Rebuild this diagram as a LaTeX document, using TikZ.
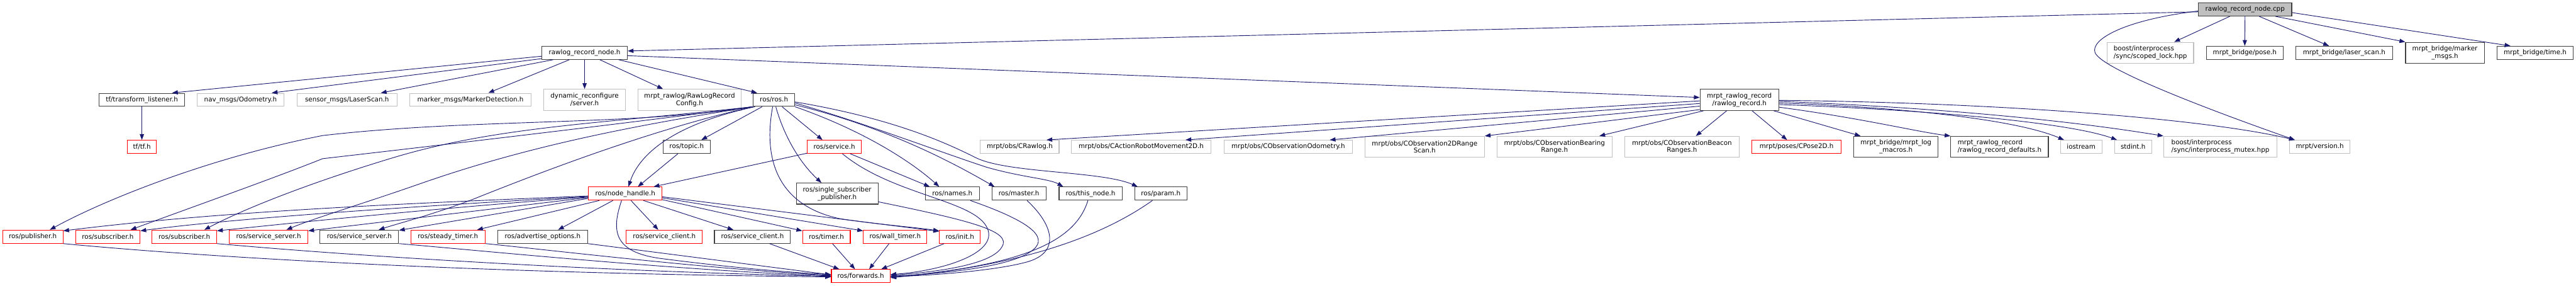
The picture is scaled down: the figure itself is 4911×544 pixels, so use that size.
\documentclass[tikz,border=0pt]{standalone}
\usepackage{fontspec}
\setmainfont{DejaVu Sans}
\usetikzlibrary{arrows.meta,calc}
\definecolor{edgecol}{HTML}{191970}
\definecolor{greyb}{HTML}{BFBFBF}
\definecolor{blkb}{HTML}{404040}
\begin{document}
\begin{tikzpicture}[x=1pt,y=-1pt,
  box/.style={rectangle, inner sep=0pt, minimum height=25pt, line width=1.3pt,
              font=\fontsize{12.4}{14.3}\selectfont, text=black, align=center},
  two/.style={minimum height=40pt},
  blk/.style={box, draw=blkb},
  gry/.style={box, draw=greyb},
  redb/.style={box, draw=red},
  rootb/.style={box, draw=blkb, fill=greyb},
  edge/.style={draw=edgecol, line width=1.1pt, -{Triangle[length=11pt,width=8pt]}},
]
\useasboundingbox (0,0) rectangle (4911,544);
% row 1
\node[rootb, minimum width=178] (cpp) at (4280,18) {rawlog\_record\_node.cpp};
% row 2
\node[blk, minimum width=163] (rnh) at (1114.5,100.5) {rawlog\_record\_node.h};
\node[gry, two, minimum width=165, align=left] (scoped) at (4099.5,100.5) {boost/interprocess\\/sync/scoped\_lock.hpp};
\node[blk, minimum width=147] (pose) at (4279.5,100.5) {mrpt\_bridge/pose.h};
\node[blk, minimum width=184] (laser) at (4469,100.5) {mrpt\_bridge/laser\_scan.h};
\node[blk, two, minimum width=150] (marker) at (4661,100.5) {mrpt\_bridge/marker\\\_msgs.h};
\node[blk, minimum width=146] (time) at (4833,100.5) {mrpt\_bridge/time.h};
% row 3
\node[blk, minimum width=163] (tfl) at (270.5,190) {tf/transform\_listener.h};
\node[gry, minimum width=165] (nav) at (458.5,190) {nav\_msgs/Odometry.h};
\node[gry, minimum width=191] (sensor) at (661.5,190) {sensor\_msgs/LaserScan.h};
\node[gry, minimum width=232] (markerdet) at (897,190) {marker\_msgs/MarkerDetection.h};
\node[gry, two, minimum width=155] (dynrec) at (1114.5,190) {dynamic\_reconfigure\\/server.h};
\node[gry, two, minimum width=197] (cfg) at (1314.5,190) {mrpt\_rawlog/RawLogRecord\\Config.h};
\node[blk, minimum width=79] (rosros) at (1475.5,190) {ros/ros.h};
\node[blk, two, minimum width=150] (rr) at (3316,190) {mrpt\_rawlog\_record\\/rawlog\_record.h};
% row 4
\node[redb, minimum width=55] (tf) at (270.5,279.5) {tf/tf.h};
\node[blk, minimum width=90] (topic) at (1309,279.5) {ros/topic.h};
\node[redb, minimum width=103] (service) at (1590.5,279.5) {ros/service.h};
\node[gry, minimum width=150] (crawlog) at (1944,279.5) {mrpt/obs/CRawlog.h};
\node[gry, minimum width=267] (caction) at (2175.5,279.5) {mrpt/obs/CActionRobotMovement2D.h};
\node[gry, minimum width=244] (codo) at (2456,279.5) {mrpt/obs/CObservationOdometry.h};
\node[gry, two, minimum width=228] (c2d) at (2716,279.5) {mrpt/obs/CObservation2DRange\\Scan.h};
\node[gry, two, minimum width=219] (cbear) at (2963.5,279.5) {mrpt/obs/CObservationBearing\\Range.h};
\node[gry, two, minimum width=219] (cbeacon) at (3206.5,279.5) {mrpt/obs/CObservationBeacon\\Ranges.h};
\node[redb, minimum width=170] (cpose) at (3425,279.5) {mrpt/poses/CPose2D.h};
\node[blk, two, minimum width=161] (macros) at (3614.5,279.5) {mrpt\_bridge/mrpt\_log\\\_macros.h};
\node[blk, two, minimum width=186, align=left] (defaults) at (3812,279.5) {mrpt\_rawlog\_record\\/rawlog\_record\_defaults.h};
\node[gry, minimum width=79] (iostream) at (3967.5,279.5) {iostream};
\node[gry, minimum width=71] (stdint) at (4066.5,279.5) {stdint.h};
\node[gry, two, minimum width=216, align=left] (mutex) at (4233,279.5) {boost/interprocess\\/sync/interprocess\_mutex.hpp};
\node[gry, minimum width=115] (version) at (4422.5,279.5) {mrpt/version.h};
% row 5
\node[redb, minimum width=140] (nh) at (1192,368.5) {ros/node\_handle.h};
\node[blk, two, minimum width=156] (ssp) at (1596,368.5) {ros/single\_subscriber\\\_publisher.h};
\node[blk, minimum width=103] (names) at (1815.5,368.5) {ros/names.h};
\node[blk, minimum width=103] (master) at (1942.5,368.5) {ros/master.h};
\node[blk, minimum width=120] (thisnode) at (2079,368.5) {ros/this\_node.h};
\node[blk, minimum width=100] (param) at (2213,368.5) {ros/param.h};
% row 6
\node[redb, minimum width=115] (pub) at (62.5,450.5) {ros/publisher.h};
\node[redb, minimum width=123] (sub1) at (205.5,450.5) {ros/subscriber.h};
\node[redb, minimum width=123] (sub2) at (351.5,450.5) {ros/subscriber.h};
\node[redb, minimum width=150] (ssr) at (512,450.5) {ros/service\_server.h};
\node[blk, minimum width=150] (ssb) at (685,450.5) {ros/service\_server.h};
\node[redb, minimum width=142] (steady) at (854,450.5) {ros/steady\_timer.h};
\node[blk, minimum width=171] (adv) at (1034.5,450.5) {ros/advertise\_options.h};
\node[redb, minimum width=145] (scr) at (1266.5,450.5) {ros/service\_client.h};
\node[blk, minimum width=145] (scb) at (1434.5,450.5) {ros/service\_client.h};
\node[redb, minimum width=91] (timer) at (1575.5,450.5) {ros/timer.h};
\node[redb, minimum width=121] (wall) at (1706.5,450.5) {ros/wall\_timer.h};
\node[redb, minimum width=78] (init) at (1830,450.5) {ros/init.h};
% row 7
\node[redb, minimum width=112] (fwd) at (1641,525.5) {ros/forwards.h};

% ---- edges from the .cpp
\draw[edge] ($(cpp.west)+(0,4.5)$) -- ($(rnh.east)+(0,-3.5)$);
\draw[edge] ($(cpp.south)+(-29,0)$) -- ($(scoped.north)+(45.5,0)$);
\draw[edge] (cpp.south) -- (pose.north);
\draw[edge] ($(cpp.south)+(27,0)$) -- ($(laser.north)+(-29,0)$);
\draw[edge] ($(cpp.south)+(58,0)$) -- (marker.north west);
\draw[edge] ($(cpp.east)+(0,6)$) -- ($(time.north)+(-47,0)$);
\draw[edge] ($(cpp.west)+(0,3)$) .. controls (4050,38) and (3985,75) .. (3994,100)
            .. controls (4005,130) and (4200,205) .. ($(version.north)+(-47.5,0)$);
% ---- edges from rawlog_record_node.h
\draw[edge] ($(rnh.west)+(0,6.5)$) -- ($(tfl.north)+(57.5,0)$);
\draw[edge] ($(rnh.south west)+(0,-2)$) -- ($(nav.north)+(59.5,0)$);
\draw[edge] ($(rnh.south)+(-60,0)$) -- ($(sensor.north)+(64.5,0)$);
\draw[edge] ($(rnh.south)+(-29,0)$) -- ($(markerdet.north)+(34,0)$);
\draw[edge] (rnh.south) -- (dynrec.north);
\draw[edge] ($(rnh.south)+(29,0)$) -- ($(cfg.north)+(-50.5,0)$);
\draw[edge] ($(rnh.south)+(65,0)$) -- ($(rosros.north)+(-32,0)$);
\draw[edge] ($(rnh.east)+(0,5.5)$) -- ($(rr.west)+(0,-4.5)$);
\draw[edge] (tfl.south) -- (tf.north);
% ---- edges from rawlog_record.h
\draw[edge] ($(rr.west)+(0,2)$) -- ($(crawlog.north)+(51,0)$);
\draw[edge] ($(rr.west)+(0,7)$) -- ($(caction.north)+(84.5,0)$);
\draw[edge] ($(rr.west)+(0,12)$) -- ($(codo.north)+(79,0)$);
\draw[edge] ($(rr.south west)+(0,-2)$) -- (c2d.north east);
\draw[edge] ($(rr.south west)+(8,0)$) -- ($(cbear.north)+(85.5,0)$);
\draw[edge] ($(rr.south)+(-24,0)$) -- ($(cbeacon.north)+(26.5,0)$);
\draw[edge] ($(rr.south)+(24,0)$) -- ($(cpose.north)+(-18,0)$);
\draw[edge] ($(rr.south)+(65,0)$) -- ($(macros.north)+(-67.5,0)$);
\draw[edge] ($(rr.east)+(0,14)$) .. controls (3550,225) and (3650,250) .. (defaults.north west);
\draw[edge] ($(rr.east)+(0,6)$) .. controls (3650,205) and (3850,230) .. ($(iostream.north)+(-32.5,0)$);
\draw[edge] ($(rr.east)+(0,9)$) .. controls (3700,210) and (3950,235) .. ($(stdint.north)+(-30.5,0)$);
\draw[edge] ($(rr.east)+(0,3)$) .. controls (3700,205) and (3950,230) .. (mutex.north west);
\draw[edge] ($(rr.east)+(0,1)$) .. controls (3800,195) and (4200,225) .. ($(version.north)+(-47.5,0)$);
% ---- edges from ros/ros.h
\draw[edge] ($(rosros.south)+(-22.5,0)$) -- ($(topic.north)+(28,0)$);
\draw[edge] ($(rosros.south)+(15.5,0)$) -- ($(service.north)+(-22.5,0)$);
\draw[edge] ($(rosros.south)+(3.5,0)$) .. controls (1495,260) and (1525,310) .. ($(ssp.north)+(-30,0)$);
\draw[edge] (rosros.south east) .. controls (1650,250) and (1740,310) .. ($(names.north)+(-25,0)$);
\draw[edge] ($(rosros.east)+(0,9.5)$) .. controls (1680,240) and (1800,300) .. ($(master.north)+(-46.5,0)$);
\draw[edge] ($(rosros.east)+(0,6)$) .. controls (1650,235) and (1780,285) .. (1880,318)
            .. controls (1950,338) and (2000,340) .. ($(thisnode.north)+(-52,0)$);
\draw[edge] ($(rosros.east)+(0,4)$) .. controls (1700,225) and (1800,270) .. (1860,300)
            .. controls (1920,330) and (2100,325) .. ($(param.north)+(-44,0)$);
\draw[edge] ($(rosros.south)+(-2.5,0)$) .. controls (1455,300) and (1480,390) .. (1600,416)
            .. controls (1680,428) and (1740,432) .. ($(init.north west)+(0,2)$);
\draw[edge] ($(rosros.south west)+(4,0)$) .. controls (1290,235) and (1220,290) .. ($(nh.north)+(6,0)$);
\draw[edge] (rosros.south west) .. controls (1200,240) and (900,225) .. (615,258)
            .. controls (400,300) and (200,380) .. ($(pub.north)+(32.5,0)$);
\draw[edge] (rosros.south west) .. controls (1150,240) and (850,275) .. (615,302)
            .. controls (520,340) and (350,400) .. ($(sub1.north)+(43.5,0)$);
\draw[edge] (rosros.south west) .. controls (1150,235) and (950,240) .. (750,300)
            .. controls (600,345) and (470,395) .. ($(sub2.north)+(38,0)$);
\draw[edge] (rosros.south west) .. controls (1200,240) and (1000,280) .. (800,350)
            .. controls (700,385) and (600,415) .. ($(ssr.north)+(34,0)$);
\draw[edge] (rosros.south west) .. controls (1250,245) and (1050,320) .. (900,380)
            .. controls (820,410) and (760,425) .. ($(ssb.north)+(37,0)$);
% ---- topic / service
\draw[edge] ($(topic.south west)+(29,0)$) -- ($(nh.north)+(24,0)$);
\draw[edge] ($(service.south west)+(0,-1)$) -- ($(nh.north)+(54,0)$);
\draw[edge] ($(service.south)+(30.5,0)$) -- ($(names.north)+(-43,0)$);
\draw[edge] ($(service.south)+(15.5,0)$) .. controls (1700,370) and (1850,380) .. (1880,430)
            .. controls (1910,480) and (1800,515) .. ($(fwd.east)+(0,-3)$);
% ---- node_handle
\draw[edge] ($(nh.west)+(0,4.5)$) .. controls (700,390) and (400,405) .. ($(pub.north east)+(0,2)$);
\draw[edge] ($(nh.west)+(0,5.5)$) .. controls (800,392) and (450,415) .. ($(sub1.north east)+(0,2)$);
\draw[edge] ($(nh.west)+(0,6.5)$) .. controls (850,395) and (600,420) .. ($(sub2.north east)+(0,2)$);
\draw[edge] ($(nh.west)+(0,7.5)$) -- ($(ssr.north east)+(0,2)$);
\draw[edge] ($(nh.south west)+(0,-4)$) -- ($(ssb.north east)+(0,1)$);
\draw[edge] ($(nh.south west)+(21,0)$) -- ($(steady.north)+(55.6,0)$);
\draw[edge] ($(nh.south)+(-23.5,0)$) -- ($(adv.north)+(29.5,0)$);
\draw[edge] ($(nh.south)+(11,0)$) -- ($(scr.north)+(-11.5,0)$);
\draw[edge] ($(nh.south)+(34.7,0)$) -- ($(scb.north)+(-36.5,0)$);
\draw[edge] ($(nh.east)+(0,11.5)$) -- ($(timer.north west)+(0,2)$);
\draw[edge] ($(nh.east)+(0,8)$) -- ($(wall.north west)+(0,2)$);
\draw[edge] ($(nh.east)+(0,6)$) -- ($(init.north west)+(0,3)$);
\draw[edge] ($(nh.south)+(-7,0)$) .. controls (1165,440) and (1170,480) .. (1260,492)
            .. controls (1400,510) and (1500,518) .. ($(fwd.west)+(0,-3)$);
% ---- row 5 to forwards
\draw[edge] ($(ssp.south east)+(0,-5)$) .. controls (1850,420) and (1930,440) .. (1910,470)
            .. controls (1890,505) and (1780,518) .. ($(fwd.east)+(0,-1.5)$);
\draw[edge] ($(names.south)+(34.5,0)$) .. controls (1960,420) and (2000,450) .. (1970,475)
            .. controls (1930,510) and (1780,522) .. (fwd.east);
\draw[edge] ($(master.south)+(15.5,0)$) .. controls (2010,430) and (2020,480) .. (1960,498)
            .. controls (1900,515) and (1780,524) .. ($(fwd.east)+(0,1)$);
\draw[edge] ($(thisnode.south)+(-5,0)$) .. controls (2050,460) and (1950,505) .. ($(fwd.east)+(0,2)$);
\draw[edge] ($(param.south)+(-16,0)$) .. controls (2100,450) and (1950,505) .. ($(fwd.east)+(0,3)$);
% ---- row 6 to forwards
\draw[edge] (pub.south east) .. controls (400,490) and (900,520) .. ($(fwd.west)+(0,1.5)$);
\draw[edge] (sub2.south east) .. controls (650,485) and (1100,515) .. ($(fwd.west)+(0,0.5)$);
\draw[edge] (ssb.south east) .. controls (950,480) and (1300,515) .. ($(fwd.west)+(0,-0.5)$);
\draw[edge] (steady.south east) .. controls (1050,476) and (1350,512) .. ($(fwd.west)+(0,-1.5)$);
\draw[edge] (adv.south east) -- ($(fwd.west)+(0,-2.5)$);
\draw[edge] ($(scb.south)+(32.5,0)$) -- ($(fwd.north)+(-41,0)$);
\draw[edge] ($(timer.south)+(11.5,0)$) -- ($(fwd.north)+(-11,0)$);
\draw[edge] ($(wall.south)+(-11.5,0)$) -- ($(fwd.north)+(16,0)$);
\draw[edge] ($(init.south)+(-30,0)$) -- ($(fwd.north)+(39,0)$);
\end{tikzpicture}
\end{document}
